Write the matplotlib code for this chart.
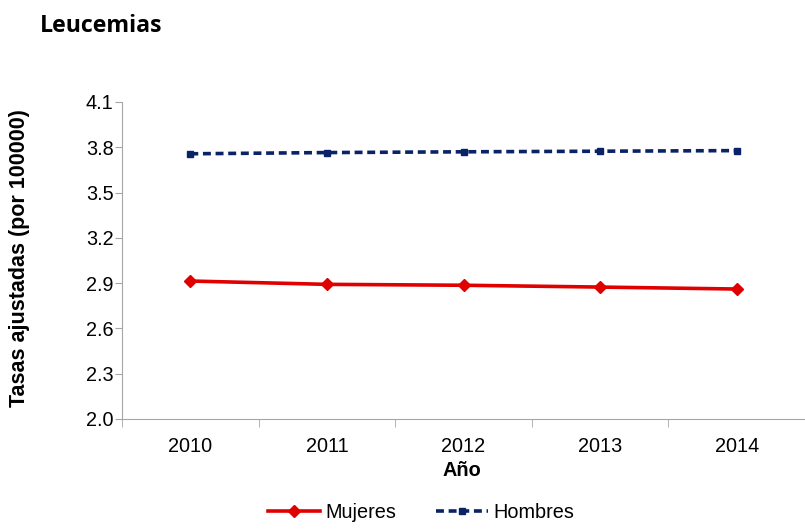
import matplotlib.pyplot as plt
import numpy as np

years = ["2010", "2011", "2012", "2013", "2014"]
mujeres = [2.914, 2.892, 2.886, 2.874, 2.861]
hombres = [3.757, 3.765, 3.770, 3.774, 3.778]
yticks = [2.0, 2.3, 2.6, 2.9, 3.2, 3.5, 3.8, 4.1]

plt.rcParams["font.family"] = ["Liberation Sans", "DejaVu Sans"]

fig = plt.figure(figsize=(8.05, 5.3), dpi=100)
ax = fig.add_axes([122 / 805, 111 / 530, 683 / 805, 317 / 530])

x = np.arange(len(years))
ax.plot(x, mujeres, color="#e00000", lw=2.6, marker="D", ms=6.5,
        label="Mujeres")
ax.plot(x, hombres, color="#0a2366", lw=2.6, ls=(0, (2.2, 1.3)), marker="s",
        ms=4.5, label="Hombres")

ax.set_xlim(-0.5, len(years) - 0.5)
ax.set_ylim(2.0, 4.1)
ax.set_yticks(yticks)
ax.set_yticklabels([f"{v:.1f}" for v in yticks], fontsize=14.3)
ax.set_xticks(x)
ax.set_xticklabels(years, fontsize=14.3)
ax.set_xticks(np.arange(len(years) + 1) - 0.5, minor=True)
ax.tick_params(axis="x", which="major", length=0, pad=13)
ax.tick_params(axis="x", which="minor", length=6, color="#a6a6a6")
ax.tick_params(axis="y", length=5, color="#a6a6a6", pad=1)

for s in ["top", "right"]:
    ax.spines[s].set_visible(False)
for s in ["left", "bottom"]:
    ax.spines[s].set_color("#a6a6a6")

ax.set_xlabel("Año", fontsize=14.3, fontweight="bold")
ax.xaxis.set_label_coords((462 - 122) / 683, -(470 - 419) / 317)
ax.set_ylabel("Tasas ajustadas (por 100000)", fontsize=15.5, fontweight="bold")
ax.yaxis.set_label_coords(-(122 - 20) / 683, (419 - 258) / 317)
ax.xaxis.label.set_va("center")
ax.yaxis.label.set_va("center")

fig.text(40 / 805, 1 - 26 / 530, "Leucemias", fontsize=16.7, fontweight="bold",
         family=["Open Sans", "DejaVu Sans"], va="center", ha="left")

fig.legend(loc="center", bbox_to_anchor=(421 / 805, 1 - 512 / 530), ncol=2,
           frameon=False, fontsize=14.3, handlelength=2.65, columnspacing=2.0,
           handletextpad=0.25)

fig.savefig("out.png", dpi=100)
